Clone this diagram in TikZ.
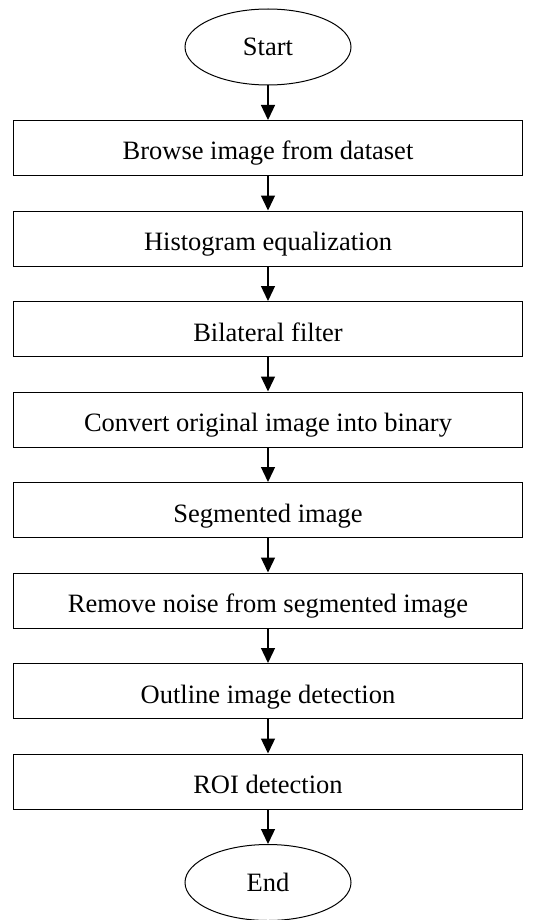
\documentclass[tikz,border=0pt]{standalone}
\usepackage{fontspec}
\setmainfont{Liberation Serif}
\usetikzlibrary{positioning}
\usetikzlibrary{shapes.geometric}
\usetikzlibrary{arrows.meta}

\begin{document}
\begin{tikzpicture}[x=1pt,y=1pt,
node distance=34.5pt,
font=\fontsize{26.5}{29}\selectfont,
stepbox/.style={draw,line width=1pt,minimum width=509pt,minimum height=55pt,inner sep=0pt,text height=26pt,text depth=2pt},
terminal/.style={draw,ellipse,line width=1pt,minimum width=166pt,minimum height=76pt,inner sep=0pt},
flow/.style={line width=1.3pt,-{Triangle[width=14pt,length=15pt]}}
]
\useasboundingbox (0,0) rectangle (533,-920);
% start and steps
\node[terminal] (start) at (268,-47) {Start};
\node[stepbox,below=of start] (browse) {Browse image from dataset};
\node[stepbox,below=of browse] (histeq) {Histogram equalization};
\node[stepbox,below=of histeq] (bilat) {Bilateral filter};
\node[stepbox,below=of bilat] (binary) {Convert original image into binary};
\node[stepbox,below=of binary] (segm) {Segmented image};
\node[stepbox,below=of segm] (denoise) {Remove noise from segmented image};
\node[stepbox,below=of denoise] (outline) {Outline image detection};
\node[stepbox,below=of outline] (roi) {ROI detection};
\node[terminal,below=of roi] (end) {End};
% arrows
\foreach \a/\b in {start/browse,browse/histeq,histeq/bilat,bilat/binary,binary/segm,segm/denoise,denoise/outline,outline/roi,roi/end}
  \draw[flow] (\a) -- (\b);
\end{tikzpicture}
\end{document}
